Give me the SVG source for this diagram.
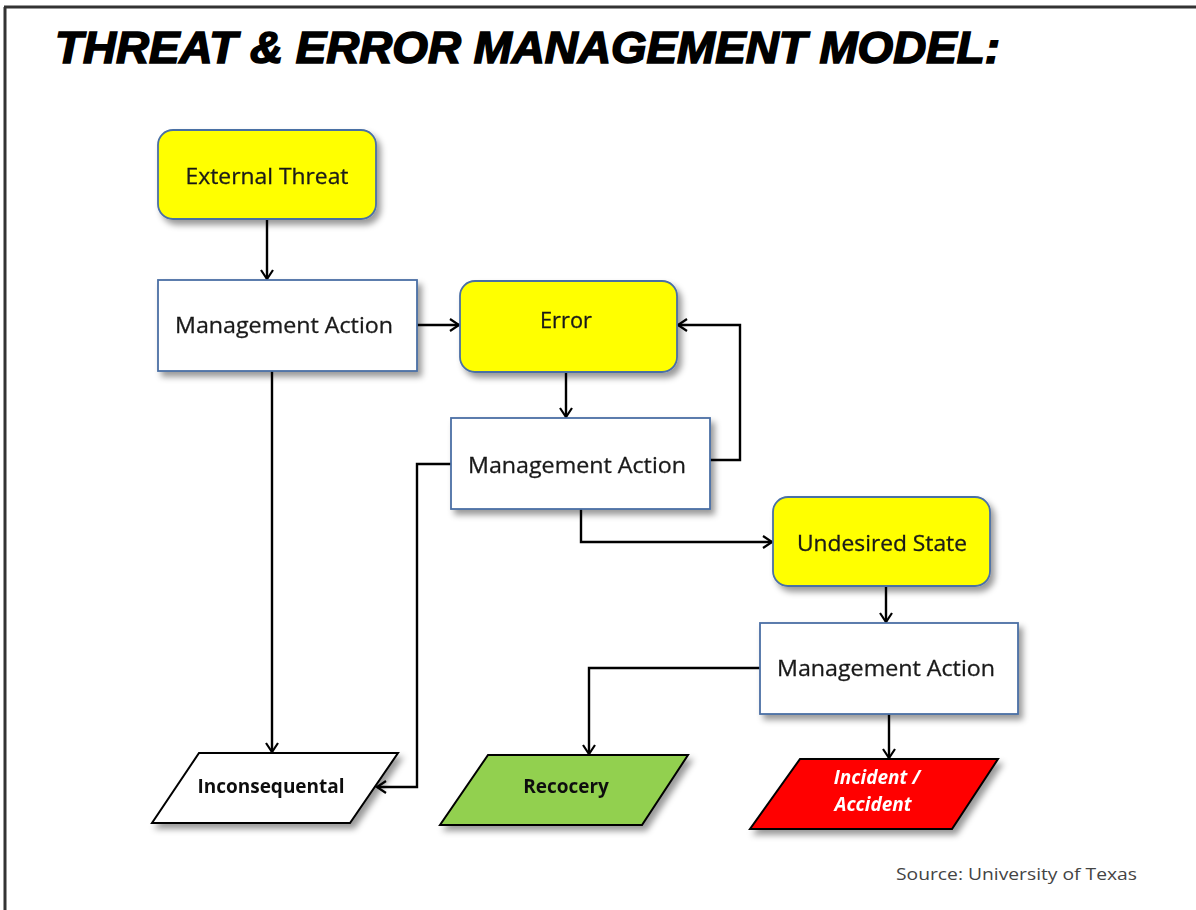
<svg xmlns="http://www.w3.org/2000/svg" width="1196" height="910" viewBox="0 0 1196 910">
<defs>
<filter id="sh" x="-10%" y="-10%" width="130%" height="140%">
<feDropShadow dx="4" dy="5" stdDeviation="3" flood-color="#000" flood-opacity="0.4"/>
</filter>
<marker id="arr" markerUnits="userSpaceOnUse" markerWidth="16" markerHeight="16" viewBox="0 0 16 16" refX="14" refY="8" orient="auto">
<path d="M5,2 L14,8 L5,14" fill="none" stroke="#000" stroke-width="2.2"/>
</marker>
<style>
.yel{fill:#ffff00;stroke:#4a6fa5;stroke-width:1.8}
.wht{fill:#ffffff;stroke:#4a6fa5;stroke-width:1.8}
.par{stroke:#000;stroke-width:2}
.lbl{font-family:"Open Sans","Liberation Sans",sans-serif;font-size:22px;fill:#1a1a1a;text-anchor:middle;stroke:#1a1a1a;stroke-width:0.3}
.blbl{font-family:"Open Sans","Liberation Sans",sans-serif;font-size:19px;font-weight:bold;fill:#111;text-anchor:middle}
.con{fill:none;stroke:#000;stroke-width:2.4;marker-end:url(#arr)}
</style>
</defs>
<rect width="1196" height="910" fill="#ffffff"/>
<g id="frame">
<line x1="4" y1="7" x2="1196" y2="7" stroke="#333" stroke-width="3"/>
<line x1="5" y1="7" x2="5" y2="910" stroke="#333" stroke-width="3"/>
</g>
<text id="title" x="55" y="63" font-family="Liberation Sans, Arial, sans-serif" font-size="44" font-weight="bold" font-style="italic" fill="#000" stroke="#000" stroke-width="1.6" textLength="945" lengthAdjust="spacingAndGlyphs">THREAT &amp; ERROR MANAGEMENT MODEL:</text>
<g id="connectors">
<path class="con" d="M267,219 V279"/>
<path class="con" d="M417,325 H459"/>
<path class="con" d="M272,371 V752"/>
<path class="con" d="M566,372 V417"/>
<path class="con" d="M710,460 H740 V325 H678"/>
<path class="con" d="M451,464 H417 V787 H377"/>
<path class="con" d="M581,509 V542 H772"/>
<path class="con" d="M886,586 V622"/>
<path class="con" d="M760,668 H589 V754"/>
<path class="con" d="M889,714 V758"/>
</g>
<g id="external-threat" filter="url(#sh)">
<rect class="yel" x="158" y="130" width="218" height="89" rx="15"/>
<text class="lbl" x="267" y="184" textLength="163" lengthAdjust="spacingAndGlyphs">External Threat</text>
</g>
<g id="ma1" filter="url(#sh)">
<rect class="wht" x="158" y="280" width="259" height="91"/>
<text class="lbl" x="284" y="333" textLength="218" lengthAdjust="spacingAndGlyphs">Management Action</text>
</g>
<g id="error" filter="url(#sh)">
<rect class="yel" x="460" y="281" width="217" height="91" rx="15"/>
<text class="lbl" x="566" y="328" textLength="52" lengthAdjust="spacingAndGlyphs">Error</text>
</g>
<g id="ma2" filter="url(#sh)">
<rect class="wht" x="451" y="418" width="259" height="91"/>
<text class="lbl" x="577" y="473" textLength="218" lengthAdjust="spacingAndGlyphs">Management Action</text>
</g>
<g id="undesired-state" filter="url(#sh)">
<rect class="yel" x="773" y="497" width="217" height="89" rx="15"/>
<text class="lbl" x="882" y="551" textLength="170" lengthAdjust="spacingAndGlyphs">Undesired State</text>
</g>
<g id="ma3" filter="url(#sh)">
<rect class="wht" x="760" y="623" width="258" height="91"/>
<text class="lbl" x="886" y="676" textLength="218" lengthAdjust="spacingAndGlyphs">Management Action</text>
</g>
<g id="inconsequential" filter="url(#sh)">
<polygon class="par" fill="#ffffff" points="199,753 398,753 350,823 152,823"/>
<text class="blbl" x="271" y="793">Inconsequental</text>
</g>
<g id="recovery" filter="url(#sh)">
<polygon class="par" fill="#92d050" points="488,755 688,755 642,825 440,825"/>
<text class="blbl" x="566" y="793">Recocery</text>
</g>
<g id="incident" filter="url(#sh)">
<polygon class="par" fill="#ff0000" points="800,759 998,759 952,829 750,829"/>
<text class="blbl" x="877" y="784" style="fill:#ffffff" font-style="italic">Incident /</text>
<text class="blbl" x="873" y="811" style="fill:#ffffff" font-style="italic">Accident</text>
</g>
<text id="source" x="896" y="880" font-family="Open Sans, Liberation Sans, sans-serif" font-size="17" fill="#444" textLength="241" lengthAdjust="spacingAndGlyphs">Source: University of Texas</text>
</svg>
